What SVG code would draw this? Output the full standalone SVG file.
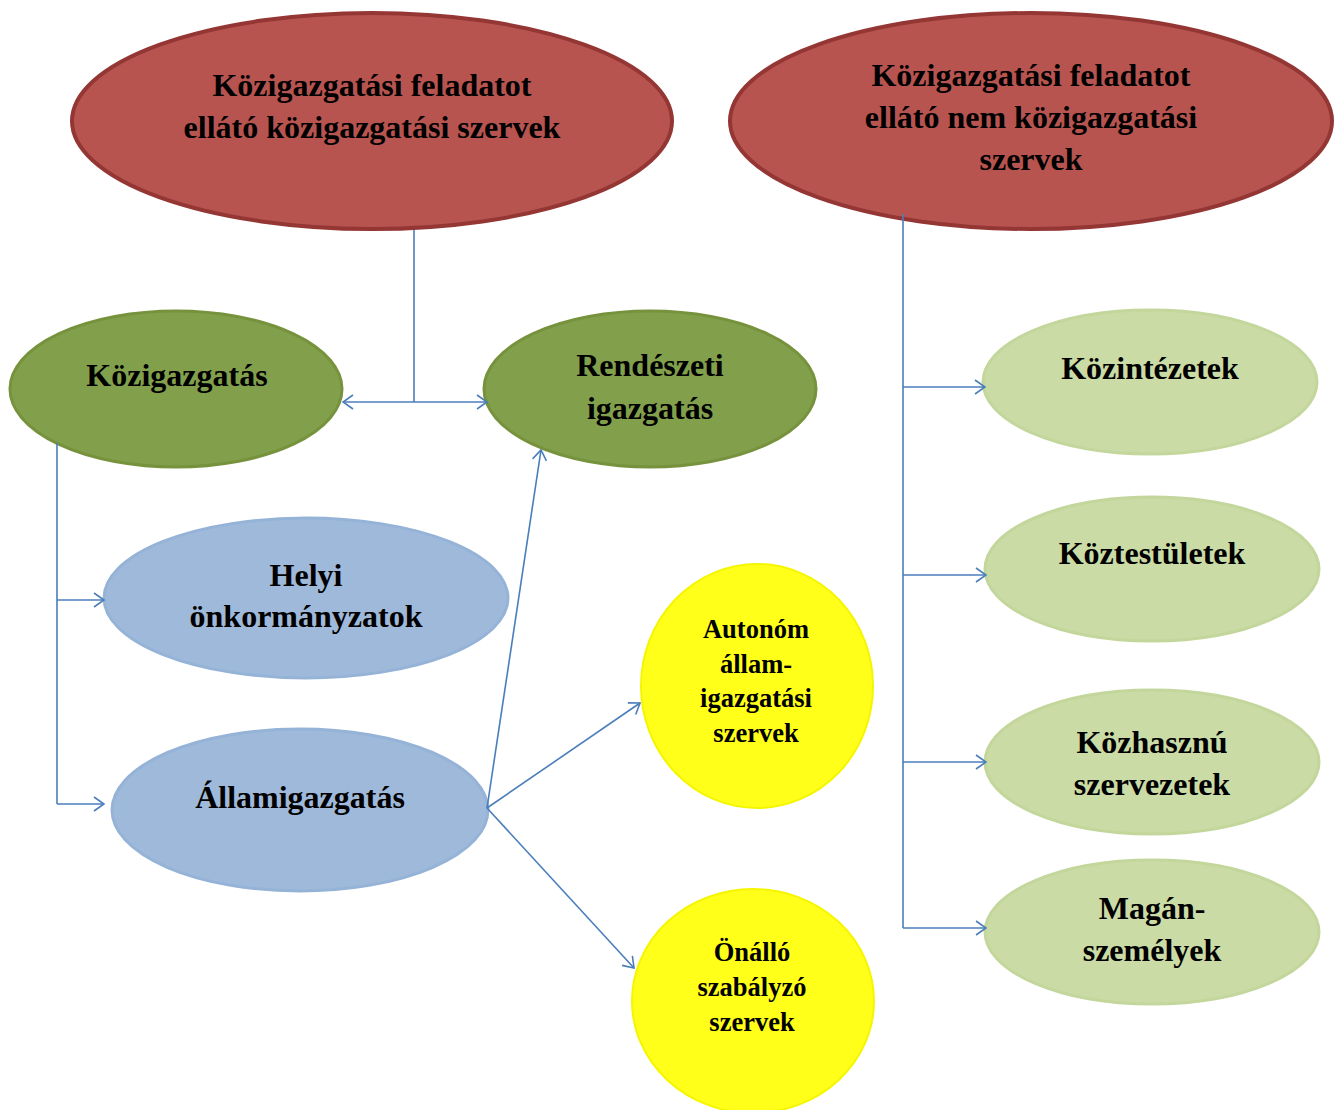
<svg xmlns="http://www.w3.org/2000/svg" width="1341" height="1110" viewBox="0 0 1341 1110">
<style>
.t{font-family:"Liberation Serif","Times New Roman",serif;font-weight:bold;fill:#000;text-anchor:middle;font-size:32px}
.s{font-size:26.5px}
.red{fill:#B85450;stroke:#943634;stroke-width:4}
.dg{fill:#82A04C;stroke:#76923C;stroke-width:3}
.lg{fill:#CADBA5;stroke:#C3D69B;stroke-width:3}
.bl{fill:#9FB9DA;stroke:#95B3D7;stroke-width:3}
.ye{fill:#FFFF1A;stroke:#F5F500;stroke-width:2}
.c{fill:none;stroke:#4A7EBB;stroke-width:1.6}
</style>
<defs>
<marker id="a" viewBox="0 0 12 16" refX="11" refY="8" markerWidth="12" markerHeight="16" markerUnits="userSpaceOnUse" orient="auto-start-reverse">
<path d="M1,1 L11,8 L1,15" fill="none" stroke="#4A7EBB" stroke-width="1.6"/>
</marker>
</defs>
<rect width="1341" height="1110" fill="#fff"/>
<g id="n-kozig-szervek">
<ellipse class="red" cx="372" cy="121" rx="300" ry="108"/>
<text class="t" x="372" y="96">Közigazgatási feladatot</text>
<text class="t" x="372" y="138">ellátó közigazgatási szervek</text>
</g>
<g id="n-nem-kozig-szervek">
<ellipse class="red" cx="1031" cy="121" rx="301" ry="108"/>
<text class="t" x="1031" y="86">Közigazgatási feladatot</text>
<text class="t" x="1031" y="128">ellátó nem közigazgatási</text>
<text class="t" x="1031" y="170">szervek</text>
</g>
<g id="n-kozigazgatas">
<ellipse class="dg" cx="176" cy="389" rx="166" ry="78"/>
<text class="t" x="177" y="386">Közigazgatás</text>
</g>
<g id="n-rendeszeti">
<ellipse class="dg" cx="650" cy="389" rx="166" ry="78"/>
<text class="t" x="650" y="376">Rendészeti</text>
<text class="t" x="650" y="419">igazgatás</text>
</g>
<g id="n-helyi">
<ellipse class="bl" cx="306" cy="598" rx="202" ry="80"/>
<text class="t" x="306" y="586">Helyi</text>
<text class="t" x="306" y="627">önkormányzatok</text>
</g>
<g id="n-allamig">
<ellipse class="bl" cx="300" cy="810" rx="188" ry="81"/>
<text class="t" x="300" y="808">Államigazgatás</text>
</g>
<g id="n-autonom">
<ellipse class="ye" cx="757" cy="686" rx="116" ry="122"/>
<text class="t s" x="756" y="638">Autonóm</text>
<text class="t s" x="756" y="673">állam-</text>
<text class="t s" x="756" y="707">igazgatási</text>
<text class="t s" x="756" y="742">szervek</text>
</g>
<g id="n-onallo">
<ellipse class="ye" cx="753" cy="1001" rx="121" ry="112"/>
<text class="t s" x="752" y="961">Önálló</text>
<text class="t s" x="752" y="996">szabályzó</text>
<text class="t s" x="752" y="1031">szervek</text>
</g>
<g id="n-kozintezetek">
<ellipse class="lg" cx="1150" cy="382" rx="167" ry="72"/>
<text class="t" x="1150" y="379">Közintézetek</text>
</g>
<g id="n-koztestuletek">
<ellipse class="lg" cx="1152" cy="569" rx="167" ry="72"/>
<text class="t" x="1152" y="564">Köztestületek</text>
</g>
<g id="n-kozhasznu">
<ellipse class="lg" cx="1152" cy="762" rx="167" ry="72"/>
<text class="t" x="1152" y="753">Közhasznú</text>
<text class="t" x="1152" y="795">szervezetek</text>
</g>
<g id="n-magan">
<ellipse class="lg" cx="1152" cy="932" rx="167" ry="72"/>
<text class="t" x="1152" y="919">Magán-</text>
<text class="t" x="1152" y="961">személyek</text>
</g>
<g id="connectors">
<path class="c" d="M414,230 V402"/>
<path class="c" d="M343,402 H487" marker-start="url(#a)" marker-end="url(#a)"/>
<path class="c" d="M57,443 V804"/>
<path class="c" d="M57,600 H104" marker-end="url(#a)"/>
<path class="c" d="M57,804 H104" marker-end="url(#a)"/>
<path class="c" d="M487,808 L541,450" marker-end="url(#a)"/>
<path class="c" d="M487,808 L640,703" marker-end="url(#a)"/>
<path class="c" d="M487,808 L634,968" marker-end="url(#a)"/>
<path class="c" d="M903,214 V928"/>
<path class="c" d="M903,387 H985" marker-end="url(#a)"/>
<path class="c" d="M903,575 H986" marker-end="url(#a)"/>
<path class="c" d="M903,762 H986" marker-end="url(#a)"/>
<path class="c" d="M903,928 H986" marker-end="url(#a)"/>
</g>
</svg>
